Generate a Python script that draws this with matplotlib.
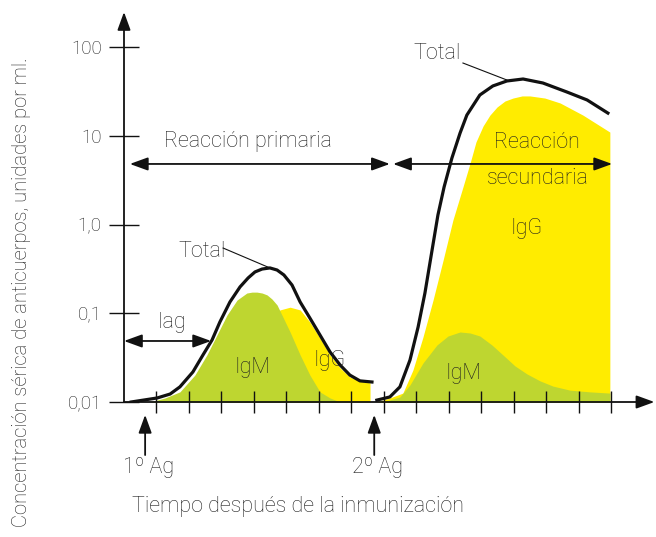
import matplotlib
matplotlib.use("Agg")
import matplotlib.pyplot as plt
from matplotlib.ticker import NullLocator

plt.rcParams["font.family"] = ["Roboto", "DejaVu Sans"]
plt.rcParams["font.weight"] = "light"

GREEN = "#bed630"
YELLOW = "#ffec00"
TXT = "#1e1e1e"

# primary response (time units, concentration per ml)
prim_total_t = [0.22, 1.02, 1.42, 1.72, 2.12, 2.43, 2.71, 2.95, 3.26, 3.57, 3.82, 4.03, 4.25,
                4.49, 4.71, 4.92, 5.17, 5.42, 5.72, 6.03, 6.34, 6.65, 6.95, 7.26, 7.63]
prim_total = [0.0100, 0.0111, 0.0123, 0.0148, 0.0218, 0.0339, 0.0500, 0.0796, 0.134, 0.198,
              0.250, 0.292, 0.315, 0.324, 0.307, 0.270, 0.208, 0.134, 0.0883, 0.0569,
              0.0366, 0.0261, 0.0201, 0.0173, 0.0168]

prim_igm_t = [0.80, 1.26, 1.72, 2.18, 2.55, 2.86, 3.17, 3.48, 3.78, 3.94, 4.09, 4.25, 4.40,
              4.55, 4.71, 5.11, 5.42, 5.72, 6.03, 6.34, 6.65]
prim_igm = [0.0100, 0.0111, 0.0130, 0.0201, 0.0339, 0.0569, 0.0955, 0.141, 0.169, 0.173,
            0.173, 0.169, 0.161, 0.145, 0.124, 0.0615, 0.0339, 0.0201, 0.0130, 0.0111, 0.0100]

prim_igg_t = [3.11, 3.57, 4.03, 4.43, 4.80, 5.11, 5.42, 5.72, 6.03, 6.34, 6.65, 6.95, 7.26, 7.57]
prim_igg = [0.0100, 0.0156, 0.0385, 0.0796, 0.109, 0.117, 0.109, 0.0796, 0.0526, 0.0339,
            0.0242, 0.0191, 0.0173, 0.0164]

# secondary response
sec_total_t = [7.78, 8.18, 8.49, 8.80, 9.05, 9.26, 9.48, 9.66, 9.85, 10.09, 10.34, 10.55,
               10.95, 11.35, 11.78, 12.28, 12.89, 13.63, 14.25, 14.89]
sec_total = [0.0105, 0.0114, 0.0148, 0.0297, 0.0700, 0.169, 0.516, 1.28, 2.65, 5.61, 10.7,
             17.1, 28.8, 36.4, 41.4, 43.6, 39.3, 31.1, 25.3, 18.0]

sec_igg_t = [7.78, 8.18, 8.58, 8.89, 9.20, 9.51, 9.82, 10.12, 10.43, 10.65, 10.83, 11.05,
             11.26, 11.48, 11.72, 11.97, 12.25, 12.49, 12.95, 13.42, 14.12, 14.95]
sec_igg = [0.0100, 0.0111, 0.0126, 0.0229, 0.0540, 0.141, 0.398, 1.12, 2.65, 4.93, 8.5, 12.9,
           17.1, 21.1, 24.6, 26.6, 28.1, 28.1, 26.6, 23.4, 17.1, 11.0]

sec_igm_t = [7.97, 8.49, 8.80, 9.20, 9.63, 9.97, 10.34, 10.65, 10.95, 11.32, 11.66, 12.03,
             12.40, 12.80, 13.20, 13.72, 14.34, 14.95]
sec_igm = [0.0100, 0.0114, 0.0156, 0.0275, 0.0439, 0.0554, 0.0615, 0.0599, 0.0554, 0.0439,
           0.0339, 0.0255, 0.0207, 0.0173, 0.0151, 0.0136, 0.0130, 0.0126]

ytick_vals = [0.01, 0.1, 1, 10, 100]
ytick_labels = ["0,01", "0,1", "1,0", "10", "100"]
xtick_vals = list(range(1, 16))
ag1, ag2 = 0.65, 7.7

fig = plt.figure(figsize=(6.56, 5.37), dpi=100)
ax = fig.add_axes([124 / 656, 135 / 537, 532 / 656, 390 / 537])
ax.set_yscale("log")
ax.set_xlim(0, 16.37)
ax.set_ylim(0.01, 248)
for s in ax.spines.values():
    s.set_visible(False)

ax.fill_between(prim_igg_t, prim_igg, 0.01, color=YELLOW, lw=0)
ax.fill_between(prim_igm_t, prim_igm, 0.01, color=GREEN, lw=0)
ax.fill_between(sec_igg_t, sec_igg, 0.01, color=YELLOW, lw=0)
ax.fill_between(sec_igm_t, sec_igm, 0.01, color=GREEN, lw=0)
ax.plot(prim_total_t, prim_total, color="#111111", lw=2.3, solid_joinstyle="round")
ax.plot(sec_total_t, sec_total, color="#111111", lw=2.3, solid_joinstyle="round")

ax.set_yticks(ytick_vals)
ax.set_yticklabels(ytick_labels)
ax.yaxis.set_minor_locator(NullLocator())
ax.set_xticks(xtick_vals)
ax.set_xticklabels([])
ax.tick_params(axis="y", direction="inout", length=22, width=1.0, pad=5,
               labelsize=13.5, labelcolor=TXT, color="#111111")
ax.tick_params(axis="x", direction="inout", length=16.5, width=1.0, color="#111111")

head = dict(arrowstyle="-|>,head_length=1.1,head_width=0.4", mutation_scale=10,
            color="#111111", lw=1.3, shrinkA=0, shrinkB=0)
both = dict(head, arrowstyle="<|-|>,head_length=1.1,head_width=0.4")

# axes with arrow heads
ax.annotate("", xy=(0, 1), xytext=(0, 0), xycoords="axes fraction", arrowprops=head)
ax.annotate("", xy=(0.997, 0), xytext=(0, 0), xycoords="axes fraction", arrowprops=head)

# reaction spans
ax.annotate("", xy=(0.18, 4.81), xytext=(8.18, 4.81), arrowprops=both)
ax.annotate("", xy=(8.28, 4.81), xytext=(15.02, 4.81), arrowprops=both)
ax.annotate("", xy=(0, 0.0487), xytext=(2.68, 0.0487), arrowprops=both)

fs = 15.5
ax.text(3.82, 8.7, "Reacción primaria", fontsize=fs, color=TXT, ha="center", va="center")
ax.text(12.71, 8.3, "Reacción", fontsize=fs, color=TXT, ha="center", va="center")
ax.text(12.74, 3.33, "secundaria", fontsize=fs, color=TXT, ha="center", va="center")
ax.text(12.4, 0.91, "IgG", fontsize=fs, color=TXT, ha="center", va="center")
ax.text(10.43, 0.0212, "IgM", fontsize=fs, color=TXT, ha="center", va="center")
ax.text(3.94, 0.0242, "IgM", fontsize=fs, color=TXT, ha="center", va="center")
ax.text(6.34, 0.0297, "IgG", fontsize=fs, color=TXT, ha="center", va="center")
ax.text(1.48, 0.0777, "lag", fontsize=fs, color=TXT, ha="center", va="center")
ax.text(2.4, 0.49, "Total", fontsize=fs, color=TXT, ha="center", va="center")
ax.plot([3.05, 4.49], [0.543, 0.324], color="#111111", lw=0.8)
ax.text(9.63, 85.3, "Total", fontsize=fs, color=TXT, ha="center", va="center")
ax.plot([10.43, 11.78], [66, 42.5], color="#111111", lw=0.8)

# antigen arrows below the time axis
xt = ax.get_xaxis_transform()
for x, lab in [(ag1, "1º Ag"), (ag2, "2º Ag")]:
    ax.annotate("", xy=(x, -0.033), xytext=(x, -0.136), xycoords=xt,
                arrowprops=head, annotation_clip=False)
    ax.text(x + 0.1, -0.167, lab, transform=xt, fontsize=fs, color=TXT,
            ha="center", va="center")
ax.text(0.25, -0.269, "Tiempo después de la inmunización", transform=xt,
        fontsize=fs, color=TXT, ha="left", va="center")

fig.text(22 / 656, 1 - 292 / 537, "Concentración sérica de anticuerpos, unidades por ml.",
         rotation=90, fontsize=14.5, color=TXT, ha="center", va="center")

fig.savefig("out.png", dpi=100)
